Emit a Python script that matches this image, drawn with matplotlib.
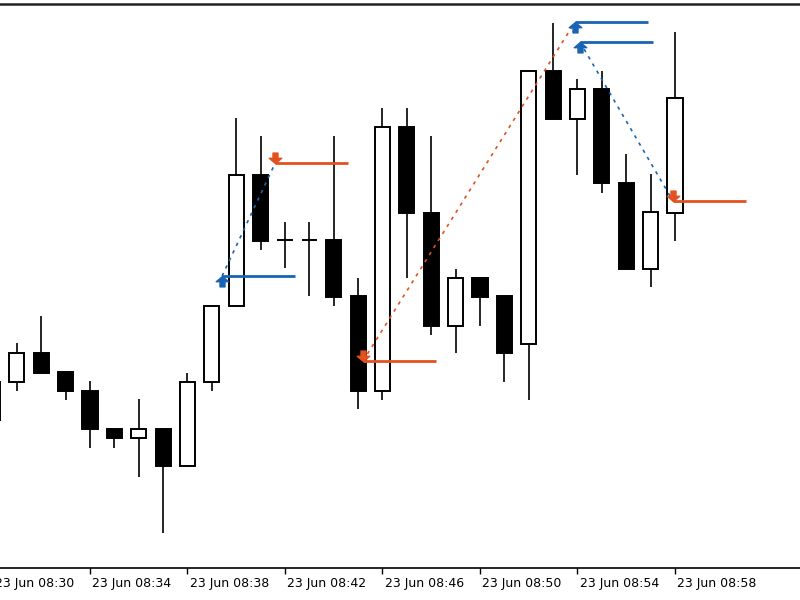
import matplotlib
matplotlib.use("Agg")
import matplotlib.pyplot as plt
from matplotlib.path import Path

# bar index = minutes after 23 Jun 08:30
bars = list(range(29))
opens = [180, 218, 247, 228, 209, 171, 162, 171, 134, 218, 294, 425, 360, 360, 360,
         304, 209, 473, 387, 274, 322, 304, 256, 529, 481, 511, 417, 331, 387]
highs = [218, 257, 284, 228, 219, 171, 201, 171, 227, 294, 482, 464, 378, 378, 464,
         322, 492, 492, 464, 331, 322, 304, 529, 577, 521, 529, 446, 426, 568]
lows = [180, 209, 227, 200, 152, 152, 123, 67, 134, 209, 294, 350, 332, 304, 294,
        191, 200, 322, 265, 247, 274, 218, 200, 481, 425, 407, 331, 313, 359]
closes = [218, 247, 227, 209, 171, 162, 171, 134, 218, 294, 425, 359, 360, 360, 303,
          209, 473, 387, 274, 322, 303, 247, 529, 481, 511, 417, 331, 388, 502]

tick_bars = [0, 4, 8, 12, 16, 20, 24, 28]
tick_labels = ["23 Jun 08:30", "23 Jun 08:34", "23 Jun 08:38", "23 Jun 08:42",
               "23 Jun 08:46", "23 Jun 08:50", "23 Jun 08:54", "23 Jun 08:58"]

# trades: entry / exit (time in bars, price)
entry_t = [9.42, 15.2, 24.1]
entry_p = [324, 239, 558]
entry_side = ["buy", "sell", "buy"]
exit_t = [11.6, 23.9, 27.92]
exit_p = [437, 578, 399]
level_len = 3  # bars

BLUE = "#1a64b4"
RED = "#e2511e"

up_arrow = Path([(0, 0), (-0.6, -0.5), (-0.24, -0.5), (-0.24, -1), (0.24, -1),
                 (0.24, -0.5), (0.6, -0.5), (0, 0)], closed=True)
down_arrow = Path([(x, -y) for x, y in up_arrow.vertices], closed=True)

fig = plt.figure(figsize=(8, 6), dpi=100)
ax = fig.add_axes([0, 32 / 600, 1, 564 / 600])

width = 0.62
for i in bars:
    o, h, l, c = opens[i], highs[i], lows[i], closes[i]
    ax.vlines(i, l, h, color="black", lw=1.2, zorder=2)
    bottom = min(o, c)
    face = "white" if c > o else "black"
    ax.bar(i, abs(c - o), width, bottom=bottom, color=face, edgecolor="black",
           linewidth=1.4, zorder=3)

side_color = {"buy": BLUE, "sell": RED}
side_marker = {"buy": up_arrow, "sell": down_arrow}
other = {"buy": "sell", "sell": "buy"}

for et, ep, s, xt, xp in zip(entry_t, entry_p, entry_side, exit_t, exit_p):
    xs = other[s]
    ax.plot([et, xt], [ep, xp], color=side_color[s], lw=1.2,
            linestyle=(0, (2, 3)), zorder=4)
    ax.hlines(ep, et, et + level_len, color=side_color[s], lw=2, zorder=4)
    ax.hlines(xp, xt, xt + level_len, color=side_color[xs], lw=2, zorder=4)
    ax.plot(et, ep, marker=side_marker[s], color=side_color[s], ms=15,
            linestyle="none", zorder=5)
    ax.plot(xt, xp, marker=side_marker[xs], color=side_color[xs], ms=15,
            linestyle="none", zorder=5)

ax.set_yticks([])
ax.set_xticks(tick_bars)
ax.set_xticklabels([])
ax.tick_params(axis="x", direction="out", length=4.5, width=1, color="black")
ax.set_xlim(0.3077, 33.13)
ax.set_ylim(32, 596)

for t, lab in zip(tick_bars, tick_labels):
    ax.annotate(lab, xy=(t, 0), xycoords=("data", "axes fraction"),
                xytext=(1.5, -6.5), textcoords="offset points",
                ha="left", va="top", fontsize=9, color="black",
                annotation_clip=False)

for side in ["left", "right"]:
    ax.spines[side].set_visible(False)
ax.spines["top"].set_linewidth(1.8)
ax.spines["top"].set_color("#222222")
ax.spines["bottom"].set_linewidth(1.2)

fig.savefig("out.png", dpi=100)
